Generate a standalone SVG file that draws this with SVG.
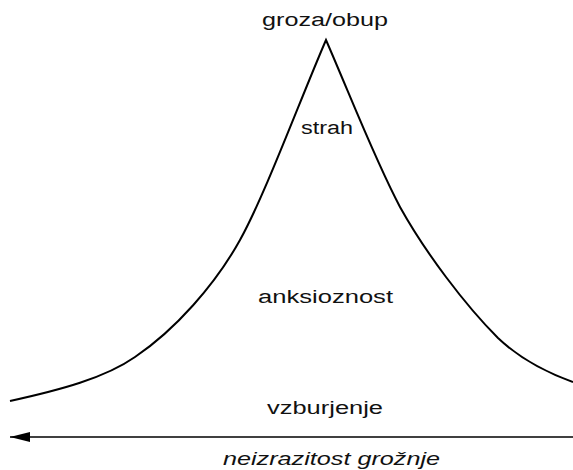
<svg xmlns="http://www.w3.org/2000/svg" width="573" height="470" viewBox="0 0 573 470">
<defs>
<style>
.lbl{font-family:"Liberation Sans",Arial,sans-serif;font-size:18px;fill:#111;}
.it{font-style:italic;}
.ln{fill:none;stroke:#000;stroke-width:2;}
</style>
<marker id="ah" viewBox="0 0 20 10" refX="20" refY="5" markerWidth="20" markerHeight="10" markerUnits="userSpaceOnUse" orient="auto">
<path d="M0,0 L20,5 L0,10 Z" fill="#000"/>
</marker>
</defs>
<rect width="573" height="470" fill="#fff"/>
<g id="connectors">
<path id="curve" class="ln" d="M10,401 C60,390 105,378 135,357 C175,330 215,285 240,240 C265,195 300,100 326,40 C350,95 375,160 400,207 C425,252 465,305 498,338 C518,357 545,372 573,382"/>
<line id="axis" x1="573" y1="437" x2="10" y2="437" stroke="#000" stroke-width="1.6" marker-end="url(#ah)"/>
</g>
<g id="groza"><text class="lbl" x="262" y="26" textLength="126" lengthAdjust="spacingAndGlyphs">groza/obup</text></g>
<g id="strah"><text class="lbl" x="301" y="134" textLength="52" lengthAdjust="spacingAndGlyphs">strah</text></g>
<g id="anksioznost"><text class="lbl" x="258" y="303" textLength="135" lengthAdjust="spacingAndGlyphs">anksioznost</text></g>
<g id="vzburjenje"><text class="lbl" x="267" y="414" textLength="116" lengthAdjust="spacingAndGlyphs">vzburjenje</text></g>
<g id="os"><text class="lbl it" x="223" y="465" textLength="217" lengthAdjust="spacingAndGlyphs">neizrazitost grožnje</text></g>
</svg>
